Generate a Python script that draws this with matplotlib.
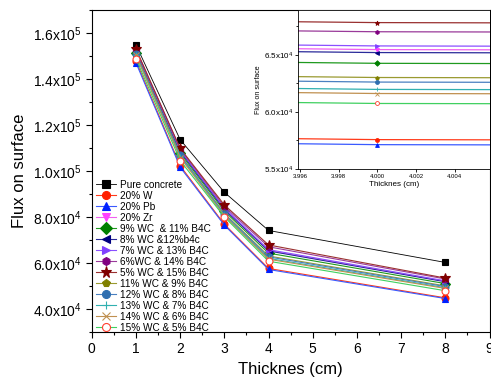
import matplotlib.pyplot as plt
from matplotlib.ticker import MultipleLocator, FixedLocator, FuncFormatter

plt.rcParams['font.family'] = ['Liberation Sans', 'DejaVu Sans']
plt.rcParams['mathtext.default'] = 'regular'

thickness = [1, 2, 3, 4, 8]

labels = ["Pure concrete", "20% W", "20% Pb", "20% Zr",
          "9% WC  & 11% B4C", "8% WC &12%b4c", "7% WC & 13% B4C",
          "6%WC & 14% B4C", "5% WC & 15% B4C", "11% WC & 9% B4C",
          "12% WC & 8% B4C", "13% WC & 7% B4C", "14% WC & 6% B4C",
          "15% WC & 5% B4C"]

pure_concrete = [1.548e5, 1.136e5, 9.07e4, 7.41e4, 6.02e4]
w20 = [1.478e5, 1.022e5, 7.68e4, 5.757e4, 4.48e4]
pb20 = [1.470e5, 1.016e5, 7.64e4, 5.713e4, 4.45e4]
zr20 = [1.522e5, 1.088e5, 8.35e4, 6.544e4, 5.20e4]
wc9_b4c11 = [1.515e5, 1.078e5, 8.25e4, 6.424e4, 5.10e4]
wc8_b4c12 = [1.520e5, 1.085e5, 8.32e4, 6.518e4, 5.18e4]
wc7_b4c13 = [1.525e5, 1.090e5, 8.38e4, 6.576e4, 5.22e4]
wc6_b4c14 = [1.528e5, 1.095e5, 8.45e4, 6.700e4, 5.30e4]
wc5_b4c15 = [1.530e5, 1.098e5, 8.52e4, 6.780e4, 5.34e4]
wc11_b4c9 = [1.510e5, 1.070e5, 8.15e4, 6.300e4, 5.00e4]
wc12_b4c8 = [1.508e5, 1.068e5, 8.12e4, 6.260e4, 4.97e4]
wc13_b4c7 = [1.505e5, 1.062e5, 8.08e4, 6.196e4, 4.92e4]
wc14_b4c6 = [1.503e5, 1.058e5, 8.05e4, 6.160e4, 4.89e4]
wc15_b4c5 = [1.488e5, 1.045e5, 8.00e4, 6.073e4, 4.79e4]

series = [pure_concrete, w20, pb20, zr20, wc9_b4c11, wc8_b4c12, wc7_b4c13,
          wc6_b4c14, wc5_b4c15, wc11_b4c9, wc12_b4c8, wc13_b4c7, wc14_b4c6,
          wc15_b4c5]

# (line colour, marker, marker face, marker edge)
styles = [
    ("#000000", "s", "#000000", "#000000"),
    ("#FF3A1A", "o", "#FF2000", "#FF2000"),
    ("#3A5AFF", "^", "#0020FF", "#0020FF"),
    ("#F060F0", "v", "#FF40FF", "#FF40FF"),
    ("#1F9A1F", "D", "#008000", "#008000"),
    ("#2A2A9A", "<", "#000080", "#000080"),
    ("#8A50FF", ">", "#8040FF", "#8040FF"),
    ("#9A3A9A", "h", "#800080", "#800080"),
    ("#9A3030", "*", "#800000", "#800000"),
    ("#9A9A30", "p", "#808000", "#808000"),
    ("#4A80C0", "o", "#2F6FB0", "#2F6FB0"),
    ("#30B0B0", "+", "#30B0B0", "#30B0B0"),
    ("#C09050", "x", "#C09050", "#C09050"),
    ("#40D060", "o", "white", "#FF4030"),
]


def sci_fmt(v, pos):
    if v == 0:
        return "0"
    e = len(str(int(v))) - 1
    return "%.1fx10$^{%d}$" % (v / 10 ** e, e)


fig = plt.figure(figsize=(4.91, 3.85), dpi=100)
ax = fig.add_axes([0.187, 0.138, 0.810, 0.836])

for data, lab, (lc, mk, mf, me) in zip(series, labels, styles):
    lw = 0.6 if lab == "Pure concrete" else 0.8
    ms = 7 if mk == "*" else 5
    ax.plot(thickness, data, color=lc, lw=lw, marker=mk, markersize=ms,
            markerfacecolor=mf, markeredgecolor=me, markeredgewidth=0.8,
            label=lab)

ax.set_xlim(0, 9)
ax.set_ylim(3.0e4, 1.7e5)
ax.xaxis.set_major_locator(MultipleLocator(1))
ax.xaxis.set_minor_locator(MultipleLocator(0.5))
ax.yaxis.set_major_locator(MultipleLocator(2e4))
ax.yaxis.set_minor_locator(MultipleLocator(1e4))
ax.yaxis.set_major_formatter(FuncFormatter(sci_fmt))
ax.tick_params(which="major", direction="out", length=4, width=0.8, labelsize=10)
ax.tick_params(which="minor", direction="out", length=2.5, width=0.8)
ax.set_xlabel("Thicknes (cm)", fontsize=12)
ax.set_ylabel("Flux on surface", fontsize=12)

ax.legend(loc="lower left", bbox_to_anchor=(0.0, -0.015), frameon=False,
          fontsize=7.2, labelspacing=0.1, handlelength=2.0, handletextpad=0.4,
          borderpad=0.2, borderaxespad=0.2, markerscale=1.15)

# inset zoom at 4 cm
ins = fig.add_axes([0.607, 0.561, 0.390, 0.413])
for data, lab, (lc, mk, mf, me) in zip(series, labels, styles):
    ms = 3.5 if mk == "*" else 2.8
    ins.plot(thickness, data, color=lc, lw=0.9, marker=mk, markersize=ms,
             markerfacecolor=mf, markeredgecolor=me, markeredgewidth=0.6)
ins.set_xlim(3.9959, 4.0058)
ins.set_ylim(5.5e4, 6.89e4)
ins.xaxis.set_major_locator(FixedLocator([3.996, 3.998, 4.000, 4.002, 4.004]))
ins.xaxis.set_major_formatter(FuncFormatter(lambda v, p: "%.3f" % v))
ins.yaxis.set_major_locator(MultipleLocator(5e3))
ins.yaxis.set_minor_locator(MultipleLocator(2.5e3))
ins.yaxis.set_major_formatter(FuncFormatter(sci_fmt))
ins.tick_params(axis="x", which="major", direction="out", length=2, width=0.6, labelsize=4.3, pad=1.5)
ins.tick_params(axis="y", which="major", direction="out", length=2, width=0.6, labelsize=5.8, pad=1.5)
ins.tick_params(which="minor", direction="out", length=1.2, width=0.6)
ins.set_xlabel("Thicknes (cm)", fontsize=5.8, labelpad=1.5)
ins.set_ylabel("Flux on surface", fontsize=5, labelpad=1.5)
for s in ins.spines.values():
    s.set_linewidth(0.6)

fig.savefig("out.png", dpi=100)
